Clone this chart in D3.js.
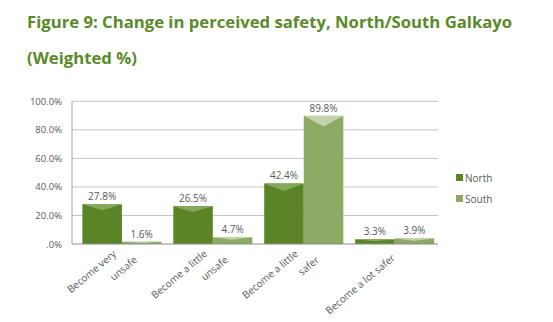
<!DOCTYPE html>
<html>
<head>
<meta charset="utf-8">
<script src="https://cdn.jsdelivr.net/npm/d3@7"></script>
<style>
  body { margin: 0; background: #fff; }
  text { font-family: "Open Sans", "Noto Sans", sans-serif; }
</style>
</head>
<body>
<div id="chart"></div>
<script>
const width = 553;
const height = 322;

// data
const categories = [
  ["Become very", "unsafe"],
  ["Become a little", "unsafe"],
  ["Become a little", "safer"],
  ["Become a lot safer"]
];
const seriesNames = ["North", "South"];
const north = [27.8, 26.5, 42.4, 3.3];
const south = [1.6, 4.7, 89.8, 3.9];
const yTicks = [0, 20, 40, 60, 80, 100];

const colors = { North: "#5b8427", South: "#8daa65" };
const tipColors = { North: "#87a75e", South: "#c3d3ac" };

const svg = d3.select("#chart")
  .append("svg")
  .attr("width", width)
  .attr("height", height);

// title
svg.append("text")
  .attr("x", 27)
  .attr("y", 28)
  .attr("fill", "#5a8a2a")
  .style("font-size", "16.7px")
  .style("font-weight", "bold")
  .text("Figure 9: Change in perceived safety, North/South Galkayo");

svg.append("text")
  .attr("x", 27)
  .attr("y", 64)
  .attr("fill", "#5a8a2a")
  .style("font-size", "16.7px")
  .style("font-weight", "bold")
  .text("(Weighted %)");

const plotLeft = 72, plotRight = 438;

const y = d3.scaleLinear().domain([0, 100]).range([244, 101.3]);

const x = d3.scaleBand()
  .domain(d3.range(categories.length))
  .range([76, 440.6])
  .paddingInner(0.13)
  .paddingOuter(0.07);

const xs = d3.scaleBand()
  .domain(seriesNames)
  .range([0, x.bandwidth()]);

// gridlines
svg.append("g")
  .selectAll("line")
  .data(yTicks.filter(d => d > 0))
  .enter()
  .append("line")
  .attr("x1", plotLeft)
  .attr("x2", plotRight)
  .attr("y1", d => y(d))
  .attr("y2", d => y(d))
  .attr("stroke", "#c4c4c4")
  .attr("stroke-width", 1);

// y axis labels
svg.append("g")
  .selectAll("text")
  .data(yTicks)
  .enter()
  .append("text")
  .attr("x", 62)
  .attr("y", d => y(d) + 3.5)
  .attr("text-anchor", "end")
  .attr("fill", "#595959")
  .style("font-size", "9.5px")
  .text(d => d === 0 ? ".0%" : d.toFixed(1) + "%");

// bars
const rows = [];
categories.forEach((c, i) => {
  rows.push({ i, s: "North", v: north[i] });
  rows.push({ i, s: "South", v: south[i] });
});

const bar = svg.append("g")
  .selectAll("g")
  .data(rows)
  .enter()
  .append("g")
  .attr("transform", d => `translate(${x(d.i) + xs(d.s)},0)`);

bar.append("rect")
  .attr("y", d => y(d.v))
  .attr("width", xs.bandwidth())
  .attr("height", d => y(0) - y(d.v))
  .attr("fill", d => colors[d.s]);

// bevel highlight at top of each bar
bar.append("path")
  .attr("d", d => {
    const h = y(0) - y(d.v);
    const dep = Math.min(h * 0.6, Math.sqrt(h) * 0.95);
    const w = xs.bandwidth();
    const t = y(d.v);
    return `M0,${t}L${w},${t}L${w / 2},${t + dep}Z`;
  })
  .attr("fill", d => tipColors[d.s]);

bar.append("text")
  .attr("x", xs.bandwidth() / 2)
  .attr("y", d => y(d.v) - 4)
  .attr("text-anchor", "middle")
  .attr("fill", "#595959")
  .style("font-size", "10px")
  .text(d => d.v.toFixed(1) + "%");

// axes lines
svg.append("line")
  .attr("x1", plotLeft).attr("x2", plotLeft)
  .attr("y1", y(100)).attr("y2", y(0))
  .attr("stroke", "#a6a6a6");
svg.append("line")
  .attr("x1", plotLeft).attr("x2", plotRight)
  .attr("y1", y(0)).attr("y2", y(0))
  .attr("stroke", "#8c8c8c");

// category labels, rotated
const lab = svg.append("g")
  .selectAll("g")
  .data(categories)
  .enter()
  .append("g");

lab.selectAll("text")
  .data((d, i) => d.map((t, k) => ({ t, k, i, n: d.length })))
  .enter()
  .append("text")
  .attr("transform", d => {
    const cx = x(d.i) + x.bandwidth() / 2;
    const dx = d.n === 1 ? 1 : (d.k === 0 ? -5 : 16);
    const dy = d.n === 1 ? 259 : (d.k === 0 ? 255 : 261);
    return `translate(${cx + dx},${dy}) rotate(-40)`;
  })
  .attr("text-anchor", "end")
  .attr("fill", "#595959")
  .style("font-size", "10px")
  .text(d => d.t);

// legend
const legend = svg.append("g")
  .selectAll("g")
  .data(seriesNames)
  .enter()
  .append("g")
  .attr("transform", (d, i) => `translate(456, ${174 + i * 21})`);

legend.append("rect")
  .attr("width", 7)
  .attr("height", 7)
  .attr("fill", d => colors[d]);

legend.append("text")
  .attr("x", 9)
  .attr("y", 7.5)
  .attr("fill", "#595959")
  .style("font-size", "10px")
  .text(d => d);
</script>
</body>
</html>
